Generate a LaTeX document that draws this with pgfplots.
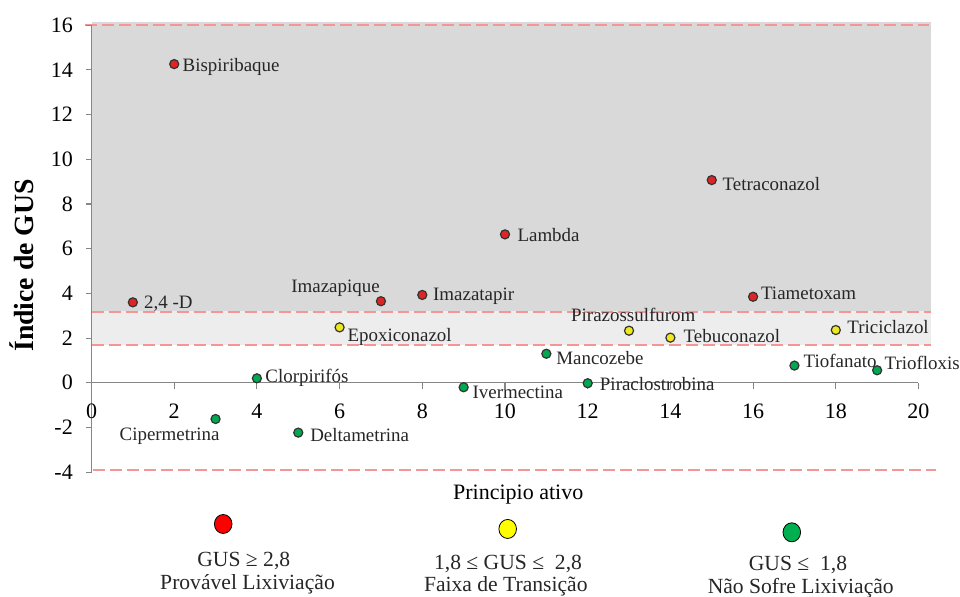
\documentclass[border=0pt]{standalone}
\usepackage{fontspec}
\setmainfont{Liberation Serif}
\usepackage{pgfplots}
\usepackage{pgfplotstable}
\pgfplotsset{compat=1.18}

\definecolor{dkgray}{RGB}{217,217,217}
\definecolor{ltgray}{RGB}{237,237,237}
\definecolor{dashred}{RGB}{244,150,150}
\definecolor{axgray}{RGB}{134,134,134}
\definecolor{ptred}{RGB}{222,36,36}
\definecolor{ptyellow}{RGB}{240,232,30}
\definecolor{ptgreen}{RGB}{0,168,80}
\definecolor{lgred}{RGB}{255,0,0}
\definecolor{lgyellow}{RGB}{255,255,0}
\definecolor{lggreen}{RGB}{0,176,80}
\definecolor{txt}{RGB}{38,38,38}

\newcommand\labfont{\fontsize{14.2}{16}\selectfont}
\newcommand\tickfont{\fontsize{16.5}{18}\selectfont}
\newcommand\legfont{\fontsize{16.2}{18}\selectfont}

% GUS >= 2,8
\pgfplotstableread{
x y
1 3.60
2 14.26
7 3.65
8 3.93
10 6.64
15 9.07
16 3.85
}\redtab
% 1,8 <= GUS <= 2,8
\pgfplotstableread{
x y
6 2.48
13 2.33
14 2.02
18 2.36
}\yellowtab
% GUS <= 1,8
\pgfplotstableread{
x y
3 -1.62
4 0.20
5 -2.23
9 -0.20
11 1.30
12 -0.02
17 0.77
19 0.56
}\greentab

% label: x, y, anchor, dx, dy, text
\newcommand\lab[6]{\node[anchor=#3, inner sep=0pt, font=\labfont, text=txt, xshift=#4pt, yshift=#5pt] at (axis cs:#1,#2) {#6};}

\begin{document}
\begin{tikzpicture}
\begin{axis}[
  set layers,
  scale only axis,
  width=620.25pt, height=335.25pt,
  xmin=0, xmax=20, ymin=-4, ymax=16,
  clip=false,
  axis x line*=middle,
  axis y line*=left,
  hide obscured x ticks=false,
  hide obscured y ticks=false,
  xtick={0,2,...,20},
  ytick={-4,-2,...,16},
  tick align=outside,
  major tick length=4.5pt,
  tick style={axgray, line width=0.8pt},
  axis line style={axgray, line width=0.8pt},
  /pgf/number format/assume math mode=true,
  tick label style={font=\tickfont, text=black},
  xticklabel style={anchor=north, yshift=-8pt},
  yticklabel style={anchor=east, xshift=-6pt},
  xlabel={Principio ativo},
  ylabel={Índice de GUS},
  every axis x label/.style={at={(axis cs:10.32,-5.21)}, anchor=base, font=\fontsize{16.5}{18}\selectfont},
  every axis y label/.style={at={(axis cs:-1.68,5.25)}, anchor=center, rotate=90, font=\fontsize{20.8}{22}\selectfont\bfseries},
]
% shaded zones
\addplot[on layer=axis background, draw=none, fill=dkgray] coordinates {(0,3.2) (20.31,3.2) (20.31,16.14) (0,16.14)} -- cycle;
\addplot[on layer=axis background, draw=none, fill=ltgray] coordinates {(0,1.69) (20.31,1.69) (20.31,3.2) (0,3.2)} -- cycle;
% dashed limits
\addplot[on layer=axis grid, dashred, line width=1.1pt, dash pattern=on 9pt off 3.75pt] coordinates {(-0.16,16) (20.25,16)};
\addplot[on layer=axis grid, dashred, line width=1.1pt, dash pattern=on 9pt off 3.75pt] coordinates {(0,3.16) (20.3,3.16)};
\addplot[on layer=axis grid, dashred, line width=1.1pt, dash pattern=on 9pt off 3.75pt] coordinates {(0,1.69) (20.3,1.69)};
\addplot[on layer=axis grid, dashred, line width=1.1pt, dash pattern=on 9pt off 3.75pt] coordinates {(0.04,-3.91) (20.43,-3.91)};

% data
\addplot[only marks, mark=*, mark size=3.4pt, mark options={fill=ptred, draw=black!80, line width=0.9pt}] table[x=x, y=y] {\redtab};
\addplot[only marks, mark=*, mark size=3.4pt, mark options={fill=ptyellow, draw=black!80, line width=0.9pt}] table[x=x, y=y] {\yellowtab};
\addplot[only marks, mark=*, mark size=3.4pt, mark options={fill=ptgreen, draw=black!80, line width=0.9pt}] table[x=x, y=y] {\greentab};

% point labels
\lab{1}{3.60}{base west}{8.25}{-4.5}{2,4 -D}
\lab{2}{14.26}{base west}{6.2}{-5.8}{Bispiribaque}
\lab{7}{3.65}{base east}{-0.75}{6.45}{Imazapique}
\lab{8}{3.93}{base west}{7.95}{-4.3}{Imazatapir}
\lab{10}{6.64}{base west}{9.2}{-5.55}{Lambda}
\lab{15}{9.07}{base west}{7.95}{-7.5}{Tetraconazol}
\lab{16}{3.85}{base west}{5.8}{-1.7}{Tiametoxam}
\lab{6}{2.48}{base west}{5.8}{-10.3}{Epoxiconazol}
\lab{13}{2.33}{base}{3.15}{6.75}{Pirazossulfurom}
\lab{14}{2.02}{base west}{9.75}{-3.45}{Tebuconazol}
\lab{18}{2.36}{base west}{8.5}{-2.5}{Triciclazol}
\lab{3}{-1.62}{base east}{3.2}{-16.5}{Cipermetrina}
\lab{4}{0.20}{base west}{6.2}{-3}{Clorpirifós}
\lab{5}{-2.23}{base west}{8.8}{-6.75}{Deltametrina}
\lab{9}{-0.20}{base west}{6.5}{-8.25}{Ivermectina}
\lab{11}{1.30}{base west}{7.3}{-7.7}{Mancozebe}
\lab{12}{-0.02}{base west}{9}{-5.8}{Piraclostrobina}
\lab{17}{0.77}{base west}{6.75}{-1.5}{Tiofanato}
\lab{19}{0.56}{base west}{5.5}{0.75}{Triofloxis}

% legend symbols
\addplot[only marks, mark=*, mark size=6.6pt, mark options={fill=lgred, draw=black, line width=0.6pt, yscale=1.08}] coordinates {(3.185,-6.318)};
\addplot[only marks, mark=*, mark size=6.6pt, mark options={fill=lgyellow, draw=black, line width=0.6pt, yscale=1.08}] coordinates {(10.065,-6.54)};
\addplot[only marks, mark=*, mark size=6.6pt, mark options={fill=lggreen, draw=black, line width=0.6pt, yscale=1.08}] coordinates {(16.936,-6.69)};

\node[anchor=base, font=\legfont, text=txt] at (axis cs:3.683,-8.24) {GUS ≥ 2,8};
\node[anchor=base, font=\legfont, text=txt] at (axis cs:3.773,-9.24) {Provável Lixiviação};
\node[anchor=base, font=\legfont, text=txt] at (axis cs:10.073,-8.35) {1,8 ≤ GUS ≤~ 2,8};
\node[anchor=base, font=\legfont, text=txt] at (axis cs:10.02,-9.36) {Faixa de Transição};
\node[anchor=base, font=\legfont, text=txt] at (axis cs:17.085,-8.42) {GUS ≤~ 1,8};
\node[anchor=base, font=\legfont, text=txt] at (axis cs:17.153,-9.42) {Não Sofre Lixiviação};

\coordinate (bbbl) at (axis cs:-2.213,-9.584);
\coordinate (bbtr) at (axis cs:21.004,17.128);
\end{axis}
\pgfresetboundingbox
\path[use as bounding box] (bbbl) rectangle (bbtr);
\end{tikzpicture}
\end{document}
